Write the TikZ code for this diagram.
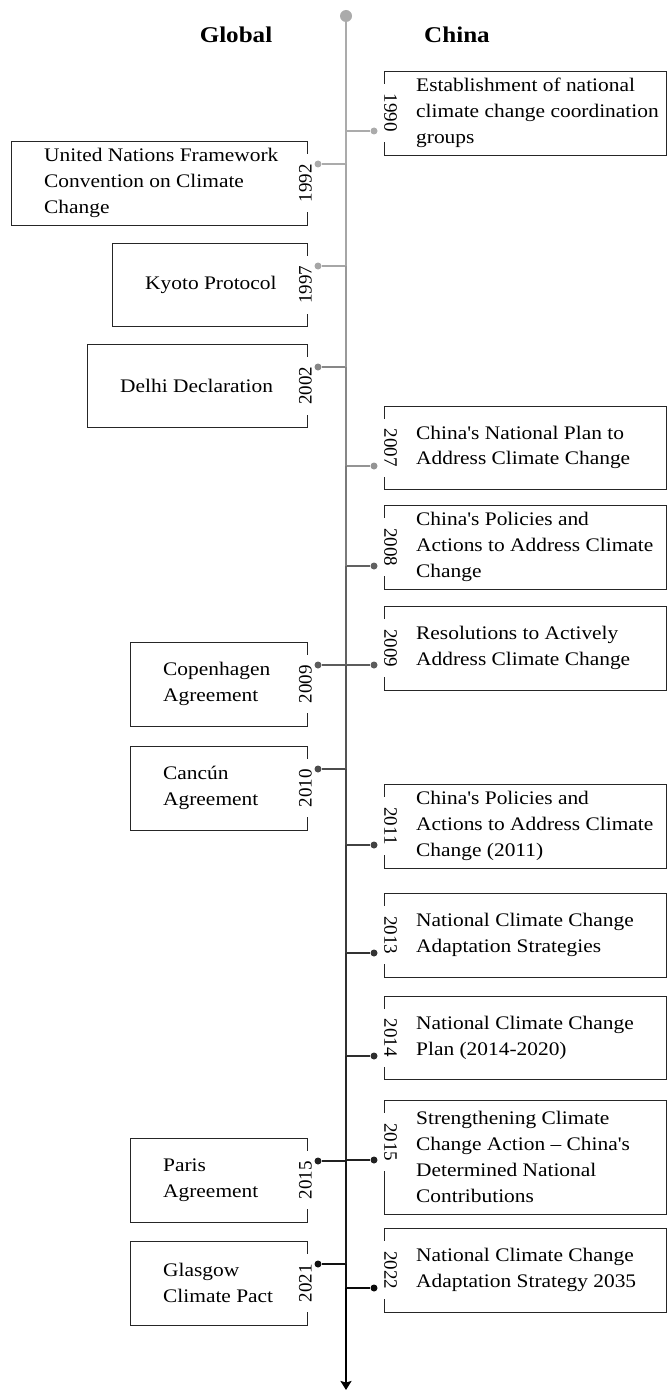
\documentclass[tikz,border=0pt]{standalone}
\usepackage{fontspec}
\setmainfont{Liberation Serif}[FakeStretch=1.115, Ligatures=TeXOff]
\newfontfamily\yearfont{Liberation Serif}[Ligatures=TeXOff]
\usetikzlibrary{arrows.meta}

\tikzset{
  evbox/.style={draw=black!85, line width=1.25pt, inner sep=0pt, anchor=north west},
  evtxt/.style={inner sep=0pt, anchor=west, align=left, text=black, font=\fontsize{19.2}{25.8}\selectfont},
  yrR/.style={rotate=-90, fill=white, inner xsep=10pt, inner ysep=1.5pt, text=black, font=\yearfont\fontsize{19}{19}\selectfont},
  yrL/.style={rotate=90, fill=white, inner xsep=10pt, inner ysep=1.5pt, text=black, font=\yearfont\fontsize{19}{19}\selectfont},
  evdot/.style={circle, inner sep=0pt, minimum size=7pt},
  evconn/.style={line width=2.2pt},
  axisseg/.style={line width=2.8pt},
  hdr/.style={anchor=base, inner sep=0pt, font=\bfseries\fontsize{22.5}{27}\selectfont}
}

% right box: #1 year, #2 top, #3 height, #4 label y, #5 text
\newcommand\rbox[5]{%
  \node[evbox, minimum width=282pt, minimum height=#3pt] (bR#1) at (384,#2) {};
  \node[evtxt] (tR#1) at (416,{#2+#3/2}) {#5};
  \node[yrR] (yR#1) at (390.5,#4) {#1};
}
% left box: #1 year, #2 left x, #3 top, #4 height, #5 text
\newcommand\lbox[5]{%
  \node[evbox, minimum width={307pt-#2pt}, minimum height=#4pt] (bL#1) at (#2,#3) {};
  \node[evtxt] (tL#1) at ({#2+33},{#3+#4/2}) {#5};
  \node[yrL] (yL#1) at (305.5,{#3+#4/2}) {#1};
}
% event connector: #1 name, #2 dot x, #3 y, #4 colour
\newcommand\evconnect[4]{%
  \coordinate (a#1) at (346,#3);
  \node[evdot, fill=#4] (d#1) at (#2,#3) {};
  \draw[evconn, draw=#4] (a#1) -- (d#1);
}

\begin{document}
\begin{tikzpicture}[x=1pt,y=-1pt]
\useasboundingbox (0,0) rectangle (667,1391);

% headers
\node[hdr] (hGlobal) at (236,43) {Global};
\node[hdr] (hChina) at (457,43) {China};

% right boxes (China)
\rbox{1990}{71}{84}{113}{Establishment of national\\climate change coordination\\groups}
\rbox{2007}{406}{83}{447.5}{China's National Plan to\\Address Climate Change}
\rbox{2008}{505}{84}{547}{China's Policies and\\Actions to Address Climate\\Change}
\rbox{2009}{606}{84}{648}{Resolutions to Actively\\Address Climate Change}
\rbox{2011}{784}{84}{826}{China's Policies and\\Actions to Address Climate\\Change (2011)}
\rbox{2013}{893}{84}{935}{National Climate Change\\Adaptation Strategies}
\rbox{2014}{996}{83}{1037.5}{National Climate Change\\Plan (2014-2020)}
\rbox{2015}{1100}{114}{1142}{Strengthening Climate\\Change Action – China's\\Determined National\\Contributions}
\rbox{2022}{1228}{84}{1270}{National Climate Change\\Adaptation Strategy 2035}

% left boxes (Global)
\lbox{1992}{11}{141}{84}{United Nations Framework\\Convention on Climate\\Change}
\lbox{1997}{112}{243}{83}{Kyoto Protocol}
\lbox{2002}{87}{344}{83}{Delhi Declaration}
\lbox{2009}{130}{642}{84}{Copenhagen\\Agreement}
\lbox{2010}{130}{746}{84}{Cancún\\Agreement}
\lbox{2015}{130}{1138}{84}{Paris\\Agreement}
\lbox{2021}{130}{1241}{84}{Glasgow\\Climate Pact}

% connectors
\evconnect{R1990}{374}{131}{black!33}
\evconnect{L1992}{318}{164}{black!33}
\evconnect{L1997}{318}{266}{black!35}
\evconnect{L2002}{318}{367}{black!47}
\evconnect{R2007}{374}{466}{black!42}
\evconnect{R2008}{374}{566}{black!62}
\evconnect{L2009}{318}{665}{black!64}
\evconnect{R2009}{374}{665}{black!64}
\evconnect{L2010}{318}{769}{black!70}
\evconnect{R2011}{374}{845}{black!74}
\evconnect{R2013}{374}{953}{black!80}
\evconnect{R2014}{374}{1056}{black!82}
\evconnect{L2015}{318}{1161}{black!87}
\evconnect{R2015}{374}{1160}{black!87}
\evconnect{L2021}{318}{1264}{black!93}
\evconnect{R2022}{374}{1288}{black!96}

% axis
\node[circle, inner sep=0pt, minimum size=12pt, fill=black!33] (top) at (346,16) {};
\coordinate (endpt) at (346,1390);
\draw[axisseg, black!33] (top.center) -- (aR1990);
\draw[axisseg, black!33] (aR1990) -- (aL1992);
\draw[axisseg, black!35] (aL1992) -- (aL1997);
\draw[axisseg, black!40] (aL1997) -- (aL2002);
\draw[axisseg, black!47] (aL2002) -- (aR2007);
\draw[axisseg, black!52] (aR2007) -- (aR2008);
\draw[axisseg, black!62] (aR2008) -- (aR2009);
\draw[axisseg, black!67] (aR2009) -- (aL2010);
\draw[axisseg, black!72] (aL2010) -- (aR2011);
\draw[axisseg, black!77] (aR2011) -- (aR2013);
\draw[axisseg, black!81] (aR2013) -- (aR2014);
\draw[axisseg, black!85] (aR2014) -- (aR2015);
\draw[axisseg, black!90] (aR2015) -- (aL2021);
\draw[axisseg, black!95] (aL2021) -- (aR2022);
\draw[axisseg, black, -{Stealth[length=9pt, width=11pt, inset=1.5pt]}] (aR2022) -- (endpt);
\end{tikzpicture}
\end{document}
